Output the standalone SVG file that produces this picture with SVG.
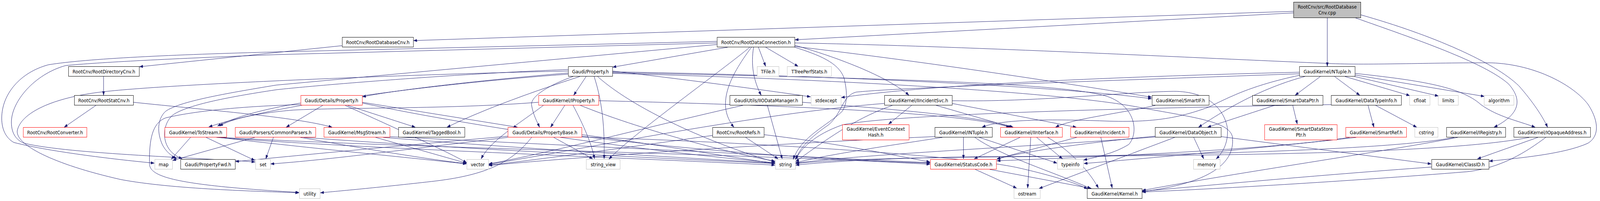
<svg xmlns="http://www.w3.org/2000/svg" width="4635" height="515" viewBox="0 0 4635 515" preserveAspectRatio="none" style="width:100vw;height:100vh;display:block">
<defs>
<marker id="arr" markerUnits="userSpaceOnUse" markerWidth="10" markerHeight="8" refX="10" refY="3.5" orient="auto">
<path d="M0,0 L10,3.5 L0,7 Z" fill="#191970" stroke="#191970" stroke-width="0.5"/>
</marker>
</defs>
<style>
.e path{fill:none;stroke:#191970;stroke-width:1;marker-end:url(#arr)}
.n rect{fill:#ffffff;stroke:#000000;stroke-width:1}
.r rect{fill:#ffffff;stroke:#ff0000;stroke-width:1}
.g rect{fill:#ffffff;stroke:#bfbfbf;stroke-width:1}
.t rect{fill:#bfbfbf;stroke:#000000;stroke-width:1}
text{font-family:"DejaVu Sans","Liberation Sans",sans-serif;font-size:12.8px;text-anchor:middle;fill:#000000}
</style>
<rect width="4635" height="515" fill="#ffffff"/>
<g id="connectors" class="e">
<path d="M3747,29 L1198,104"/>
<path d="M3747,33 L2303,102"/>
<path d="M3845,46 L3845,170"/>
<path d="M3927,46 C4100,100 4300,160 4370,215 C4410,255 4405,292 4328,326"/>
<path d="M3942,38 C4150,90 4330,160 4400,220 C4440,260 4470,300 4483,326"/>
<path d="M991,117 L404,171"/>
<path d="M300,196 L300,244"/>
<path d="M278,270 L186,326"/>
<path d="M386,262 C600,282 860,300 962,326"/>
<path d="M2108,121 L1775,172"/>
<path d="M2197,121 L2218,170"/>
<path d="M2218,121 L2312,170"/>
<path d="M2183,121 C2175,165 2182,205 2205,244"/>
<path d="M2177,121 C2110,200 2075,270 2126,326"/>
<path d="M2172,121 C2100,175 1830,345 1764,408"/>
<path d="M2302,116 C2420,145 2570,195 2633,244"/>
<path d="M2302,121 C2370,140 2430,160 2445,200 C2455,235 2455,265 2440,285 C2400,320 2320,350 2298,408"/>
<path d="M2302,110 C2800,118 3500,150 3835,162 C3950,168 4150,160 4320,161 C4450,165 4560,220 4600,267 C4625,300 4640,345 4600,367 C4530,395 4400,405 4314,413"/>
<path d="M2302,119 C2700,160 3100,215 3336,249"/>
<path d="M2077,106 L800,133 C500,140 250,150 140,166 C60,185 5,240 5,303 C5,335 20,355 40,365 C150,390 350,410 447,418"/>
<path d="M2077,110 L800,140 C500,150 280,160 190,168 C100,190 33,260 33,313 C33,345 50,360 70,367 C200,395 600,405 739,415"/>
<path d="M2077,114 L800,218 C650,240 520,260 480,285 C455,305 455,340 470,370 C480,388 495,398 512,407"/>
<path d="M1646,187 C1400,205 1150,230 1050,248"/>
<path d="M1660,196 C1600,215 1535,245 1540,270 C1545,295 1555,310 1563,326"/>
<path d="M1698,196 L1662,244"/>
<path d="M1774,188 C2500,205 3100,240 3300,275 C3450,300 3560,310 3570,350 C3580,420 3500,470 3309,491"/>
<path d="M1774,184 C2500,195 3100,225 3336,253"/>
<path d="M1680,196 C1560,230 1400,280 1295,326"/>
<path d="M1646,190 C1300,212 820,262 605,325"/>
<path d="M1774,182 C2000,205 2250,235 2348,248"/>
<path d="M1731,196 C1850,290 2100,380 2245,415"/>
<path d="M1721,196 C1745,260 1752,330 1750,407"/>
<path d="M1774,186 C2500,200 3050,210 3200,245 C3290,268 3300,340 3270,370 C3230,392 3180,402 3139,410"/>
<path d="M1646,182 C1200,190 500,215 300,235 C150,250 60,290 50,335 C45,370 150,420 350,460 C500,485 750,490 866,494"/>
<path d="M1646,178 C1300,190 900,220 800,230 C650,250 540,270 500,295 C475,315 470,350 485,375 C495,392 510,400 528,407"/>
<path d="M935,270 L829,326"/>
<path d="M1007,270 L1203,326"/>
<path d="M1049,262 L1499,326"/>
<path d="M871,264 C760,280 680,300 630,323"/>
<path d="M871,268 C700,272 560,285 480,302 C440,315 432,360 433,420 C434,455 520,475 866,493"/>
<path d="M1000,270 C1150,330 1300,390 1352,417"/>
<path d="M1049,264 C1400,330 1900,390 2245,417"/>
<path d="M1540,352 C1480,420 1400,450 1250,465 C1100,480 1000,488 928,494"/>
<path d="M1604,352 L1717,407"/>
<path d="M1685,345 C1900,370 2100,400 2245,419"/>
<path d="M1471,349 C1200,370 900,395 682,414"/>
<path d="M1471,352 C1200,380 950,410 784,420"/>
<path d="M1685,349 C2000,385 2400,410 2694,418"/>
<path d="M1685,351 C2200,365 2800,400 2950,430 C3050,450 3120,470 3150,484"/>
<path d="M1636,270 L1595,326"/>
<path d="M1574,270 C1500,320 1420,360 1394,407"/>
<path d="M1660,270 C1690,320 1715,370 1722,407"/>
<path d="M1681,270 C1850,330 2100,390 2245,413"/>
<path d="M1734,258 C2300,270 2800,290 2925,326"/>
<path d="M1560,262 C1300,280 1000,275 850,282 C740,290 670,305 636,323"/>
<path d="M2223,270 L2266,407"/>
<path d="M2152,270 C1900,320 1600,390 1416,420"/>
<path d="M2324,262 C2600,280 2850,300 2935,326"/>
<path d="M2160,352 L2254,407"/>
<path d="M2064,347 C1800,380 1550,410 1416,423"/>
<path d="M2213,345 C2450,370 2600,400 2694,415"/>
<path d="M2641,270 L2574,318"/>
<path d="M2712,270 L2931,326"/>
<path d="M2758,265 L3118,326"/>
<path d="M2585,270 C2490,300 2420,340 2305,414"/>
<path d="M2562,265 C2200,290 1700,380 1416,421"/>
<path d="M2758,258 C3000,262 3250,236 3400,234 C3500,234 3545,280 3555,325 C3560,360 3545,390 3523,407"/>
<path d="M2791,352 L2791,407"/>
<path d="M2824,352 C2900,400 3050,440 3160,483"/>
<path d="M2837,352 L3062,418"/>
<path d="M2730,352 C2600,370 2400,395 2305,417"/>
<path d="M2708,350 C2300,365 1700,400 1416,424"/>
<path d="M2955,352 L2822,407"/>
<path d="M2986,352 L2977,482"/>
<path d="M3003,352 L3078,407"/>
<path d="M3035,352 C3090,380 3150,430 3182,482"/>
<path d="M3189,352 L3222,482"/>
<path d="M3119,352 L2888,407"/>
<path d="M2825,434 L2945,482"/>
<path d="M2867,434 L3162,483"/>
<path d="M3458,352 L3487,407"/>
<path d="M3403,352 L3010,483"/>
<path d="M3537,350 L4146,420"/>
<path d="M3346,349 C3150,365 2950,390 2888,408"/>
<path d="M3346,351 C3000,375 2500,395 2305,418"/>
<path d="M3745,270 L3758,318"/>
<path d="M3692,270 L3498,326"/>
<path d="M3347,270 C3250,290 3100,305 3058,326"/>
<path d="M3963,270 L3980,326"/>
<path d="M3985,270 L4104,326"/>
<path d="M3856,268 C3400,275 2600,290 2440,320 C2360,345 2320,380 2304,410"/>
<path d="M3866,196 L3939,244"/>
<path d="M3896,196 L4084,245"/>
<path d="M3924,196 L4167,246"/>
<path d="M3925,192 L4300,247"/>
<path d="M3925,188 C4100,205 4230,220 4290,268 C4340,300 4400,310 4447,326"/>
<path d="M3825,196 L3752,244"/>
<path d="M3780,196 C3700,215 3600,250 3472,326"/>
<path d="M3764,193 C3620,220 3560,250 3500,275 C3420,300 3350,315 3200,310 C3050,305 2900,305 2845,326"/>
<path d="M3764,185 C3300,195 2700,215 2437,250"/>
<path d="M3764,189 C3100,210 2600,225 2480,236 C2440,245 2440,290 2400,320 C2350,350 2315,380 2306,408"/>
<path d="M4223,352 C4000,390 3600,440 3309,488"/>
<path d="M4213,352 C4000,390 3200,400 2900,402 C2600,404 2400,410 2305,419"/>
<path d="M4455,352 L4280,407"/>
<path d="M4478,352 C4420,390 4350,430 4250,440 C3900,465 3500,485 3309,492"/>
<path d="M4430,352 C4200,392 3600,399 2900,401 C2600,403 2400,414 2305,423"/>
<path d="M4147,428 C3800,450 3500,475 3309,490"/>
<path d="M3929,352 C3700,375 3400,400 3140,419"/>
<path d="M3910,352 C3700,380 3300,398 2888,412"/>
<path d="M552,352 L496,408"/>
<path d="M597,352 L738,411"/>
<path d="M634,352 C900,380 1200,405 1351,420"/>
<path d="M627,352 C1000,378 1700,400 2245,423"/>
<path d="M640,352 C1200,380 2200,395 2694,421"/>
<path d="M738,352 L500,411"/>
<path d="M792,352 L770,407"/>
<path d="M870,352 C1050,380 1250,410 1351,419"/>
<path d="M880,352 C1300,380 1900,405 2245,419"/>
<path d="M1088,352 L1351,418"/>
<path d="M1110,352 C1500,380 1900,400 2245,418"/>
<path d="M1125,350 C1700,375 2300,400 2694,417"/>
</g>
<g id="node0" class="t"><rect x="3747.5" y="5.5" width="194.5" height="40"/><text x="3844.75" y="21.9">RootCnv/src/RootDatabase</text><text x="3844.75" y="37.3">Cnv.cpp</text></g>
<g id="node1" class="n"><rect x="991.5" y="95.5" width="206" height="25"/><text x="1094.5" y="112.6">RootCnv/RootDatabaseCnv.h</text></g>
<g id="node2" class="n"><rect x="2077.5" y="95.5" width="225" height="25"/><text x="2190" y="112.6">RootCnv/RootDataConnection.h</text></g>
<g id="node3" class="n"><rect x="198.5" y="170.5" width="205" height="25"/><text x="301" y="187.6">RootCnv/RootDirectoryCnv.h</text></g>
<g id="node4" class="n"><rect x="1646.5" y="170.5" width="128" height="25"/><text x="1710.5" y="187.6">Gaudi/Property.h</text></g>
<g id="node5" class="g"><rect x="2193.5" y="170.5" width="63" height="25"/><text x="2225" y="187.6">TFile.h</text></g>
<g id="node6" class="g"><rect x="2280.5" y="170.5" width="128" height="25"/><text x="2344.5" y="187.6">TTreePerfStats.h</text></g>
<g id="node7" class="n"><rect x="3764.5" y="170.5" width="161" height="25"/><text x="3845" y="187.6">GaudiKernel/NTuple.h</text></g>
<g id="node8" class="n"><rect x="215.5" y="244.5" width="171" height="25"/><text x="301" y="261.6">RootCnv/RootStatCnv.h</text></g>
<g id="node9" class="r"><rect x="871.5" y="244.5" width="178" height="25"/><text x="960.5" y="261.6">Gaudi/Details/Property.h</text></g>
<g id="node10" class="r"><rect x="1560.5" y="244.5" width="174" height="25"/><text x="1647.5" y="261.6">GaudiKernel/IProperty.h</text></g>
<g id="node11" class="n"><rect x="2114.5" y="244.5" width="210" height="25"/><text x="2219.5" y="261.6">GaudiUtils/IIODataManager.h</text></g>
<g id="node12" class="g"><rect x="2349.5" y="244.5" width="87" height="25"/><text x="2393" y="261.6">stdexcept</text></g>
<g id="node13" class="n"><rect x="2562.5" y="244.5" width="196" height="25"/><text x="2660.5" y="261.6">GaudiKernel/IIncidentSvc.h</text></g>
<g id="node14" class="n"><rect x="3337.5" y="244.5" width="165" height="25"/><text x="3420" y="261.6">GaudiKernel/SmartIF.h</text></g>
<g id="node15" class="n"><rect x="3628.5" y="244.5" width="204" height="25"/><text x="3730.5" y="261.6">GaudiKernel/SmartDataPtr.h</text></g>
<g id="node16" class="n"><rect x="3856.5" y="244.5" width="203" height="25"/><text x="3958" y="261.6">GaudiKernel/DataTypeInfo.h</text></g>
<g id="node17" class="g"><rect x="4083.5" y="244.5" width="59" height="25"/><text x="4113" y="261.6">cfloat</text></g>
<g id="node18" class="g"><rect x="4166.5" y="244.5" width="58" height="25"/><text x="4195.5" y="261.6">limits</text></g>
<g id="node19" class="g"><rect x="4299.5" y="244.5" width="86" height="25"/><text x="4342.5" y="261.6">algorithm</text></g>
<g id="node20" class="r"><rect x="67.5" y="326.5" width="184" height="25"/><text x="159.5" y="343.6">RootCnv/RootConverter.h</text></g>
<g id="node21" class="r"><rect x="477.5" y="326.5" width="179" height="25"/><text x="567" y="343.6">GaudiKernel/ToStream.h</text></g>
<g id="node22" class="r"><rect x="681.5" y="326.5" width="233" height="25"/><text x="798" y="343.6">Gaudi/Parsers/CommonParsers.h</text></g>
<g id="node23" class="r"><rect x="938.5" y="326.5" width="191" height="25"/><text x="1034" y="343.6">GaudiKernel/MsgStream.h</text></g>
<g id="node24" class="n"><rect x="1154.5" y="326.5" width="192" height="25"/><text x="1250.5" y="343.6">GaudiKernel/TaggedBool.h</text></g>
<g id="node25" class="r"><rect x="1471.5" y="326.5" width="214" height="25"/><text x="1578.5" y="343.6">Gaudi/Details/PropertyBase.h</text></g>
<g id="node26" class="n"><rect x="2064.5" y="326.5" width="149" height="25"/><text x="2139" y="343.6">RootCnv/RootRefs.h</text></g>
<g id="node27" class="r"><rect x="2440.5" y="319.5" width="193" height="39"/><text x="2537" y="334.6">GaudiKernel/EventContext</text><text x="2537" y="350.2">Hash.h</text></g>
<g id="node28" class="n"><rect x="2708.5" y="326.5" width="166" height="25"/><text x="2791.5" y="343.6">GaudiKernel/INTuple.h</text></g>
<g id="node29" class="r"><rect x="2898.5" y="326.5" width="179" height="25"/><text x="2988" y="343.6">GaudiKernel/IInterface.h</text></g>
<g id="node30" class="r"><rect x="3101.5" y="326.5" width="169" height="25"/><text x="3186" y="343.6">GaudiKernel/Incident.h</text></g>
<g id="node31" class="n"><rect x="3346.5" y="326.5" width="191" height="25"/><text x="3442" y="343.6">GaudiKernel/DataObject.h</text></g>
<g id="node32" class="r"><rect x="3663.5" y="319.5" width="210" height="39"/><text x="3768.5" y="334.6">GaudiKernel/SmartDataStore</text><text x="3768.5" y="350.2">Ptr.h</text></g>
<g id="node33" class="r"><rect x="3898.5" y="326.5" width="176" height="25"/><text x="3986.5" y="343.6">GaudiKernel/SmartRef.h</text></g>
<g id="node34" class="g"><rect x="4098.5" y="326.5" width="67" height="25"/><text x="4132" y="343.6">cstring</text></g>
<g id="node35" class="n"><rect x="4190.5" y="326.5" width="171" height="25"/><text x="4276" y="343.6">GaudiKernel/IRegistry.h</text></g>
<g id="node36" class="n"><rect x="4385.5" y="326.5" width="222" height="25"/><text x="4496.5" y="343.6">GaudiKernel/IOpaqueAddress.h</text></g>
<g id="node37" class="g"><rect x="448.5" y="408.5" width="51" height="25"/><text x="474" y="425.6">map</text></g>
<g id="node38" class="n"><rect x="523.5" y="408.5" width="158" height="25"/><text x="602.5" y="425.6">Gaudi/PropertyFwd.h</text></g>
<g id="node39" class="g"><rect x="740.5" y="408.5" width="43" height="25"/><text x="762" y="425.6">set</text></g>
<g id="node40" class="g"><rect x="1352.5" y="408.5" width="63" height="25"/><text x="1384" y="425.6">vector</text></g>
<g id="node41" class="g"><rect x="1698.5" y="408.5" width="98" height="25"/><text x="1747.5" y="425.6">string_view</text></g>
<g id="node42" class="g"><rect x="2246.5" y="408.5" width="58" height="25"/><text x="2275.5" y="425.6">string</text></g>
<g id="node43" class="r"><rect x="2695.5" y="408.5" width="191" height="25"/><text x="2791" y="425.6">GaudiKernel/StatusCode.h</text></g>
<g id="node44" class="g"><rect x="3063.5" y="408.5" width="75" height="25"/><text x="3101" y="425.6">typeinfo</text></g>
<g id="node45" class="g"><rect x="3457.5" y="408.5" width="77" height="25"/><text x="3496" y="425.6">memory</text></g>
<g id="node46" class="n"><rect x="4147.5" y="408.5" width="166" height="25"/><text x="4230.5" y="425.6">GaudiKernel/ClassID.h</text></g>
<g id="node47" class="g"><rect x="867.5" y="483.5" width="60" height="25"/><text x="897.5" y="500.6">utility</text></g>
<g id="node48" class="g"><rect x="2937.5" y="483.5" width="76" height="25"/><text x="2975.5" y="500.6">ostream</text></g>
<g id="node49" class="n"><rect x="3149.5" y="483.5" width="159" height="25"/><text x="3229" y="500.6">GaudiKernel/Kernel.h</text></g>
</svg>
